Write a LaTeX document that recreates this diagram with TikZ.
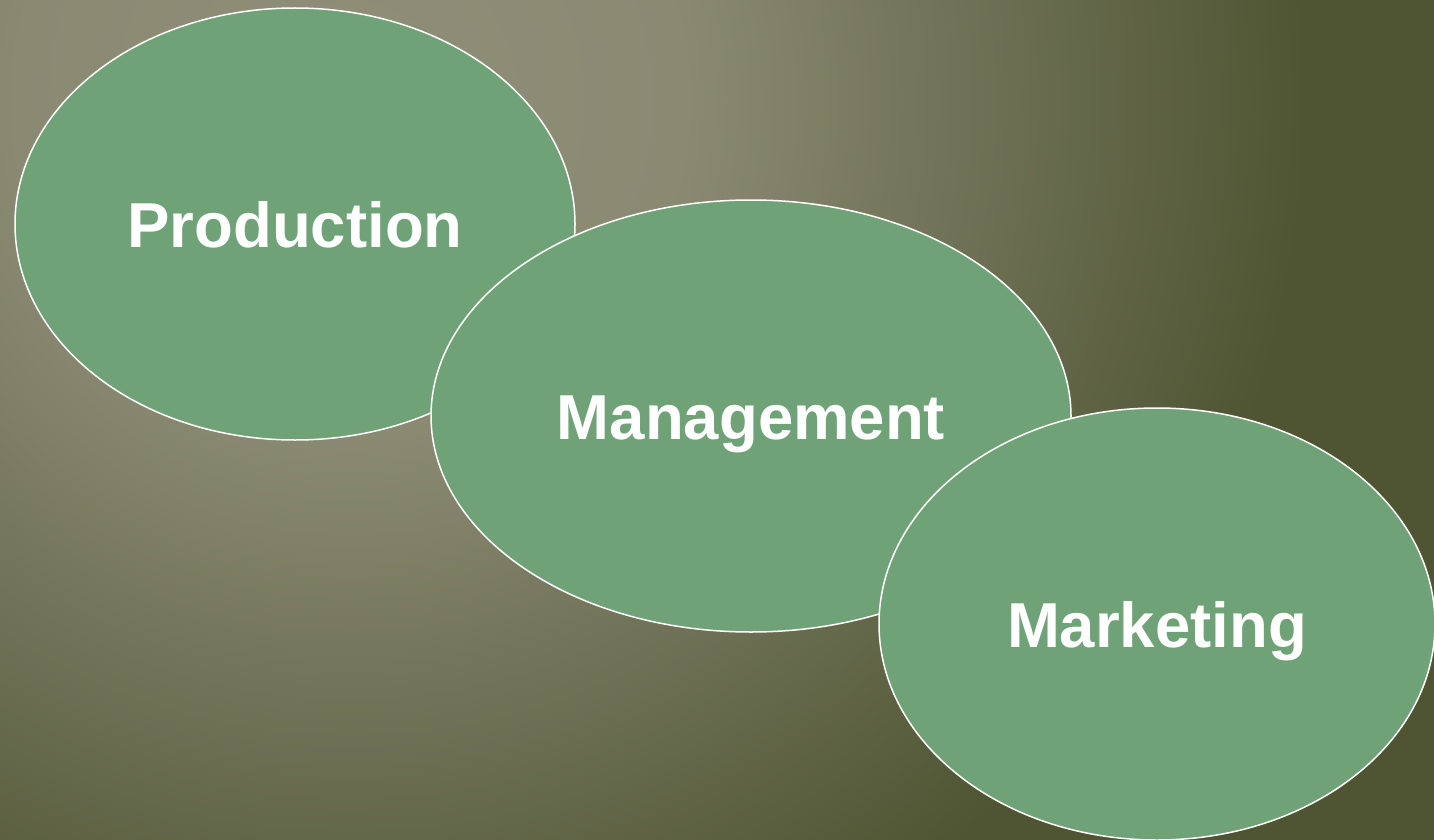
\documentclass[tikz,border=0pt]{standalone}
\usepackage{fontspec}
\setmainfont{Liberation Sans}
\usetikzlibrary{shapes.geometric}
\definecolor{bglight}{HTML}{8F8F79}
\definecolor{bgmid}{HTML}{8A8A73}
\definecolor{bgdark}{HTML}{4F5533}
\definecolor{ovalfill}{HTML}{6FA377}
\pgfdeclareradialshading{bgshade}{\pgfpoint{0bp}{0bp}}{color(0bp)=(bglight); color(17.5bp)=(bgmid); color(50bp)=(bgdark)}
\tikzset{
  oval/.style={ellipse, draw=white, line width=1.5pt, fill=ovalfill, inner sep=0pt,
    minimum height=432pt, text=white, font=\bfseries\fontsize{63.5}{75}\selectfont,
    text height=46pt, text depth=0pt}
}
\begin{document}
\begin{tikzpicture}[x=1pt,y=-1pt]
  \useasboundingbox (0,0) rectangle (1434,840);
  \begin{scope}
    \clip (0,0) rectangle (1434,840);
    \fill[bgdark] (0,0) rectangle (1434,840);
    \begin{pgfscope}
      \pgftransformshift{\pgfpoint{350pt}{-100pt}}
      \pgftransformscale{19.07}
      \pgflowlevelsynccm
      \pgfuseshading{bgshade}
    \end{pgfscope}
  \end{scope}
  \node[oval, minimum width=560pt] (prod) at (295,224) {Production};
  \node[oval, minimum width=640pt] (mgmt) at (751,416) {Management};
  \node[oval, minimum width=556pt] (mkt) at (1157,624) {Marketing};
\end{tikzpicture}
\end{document}
